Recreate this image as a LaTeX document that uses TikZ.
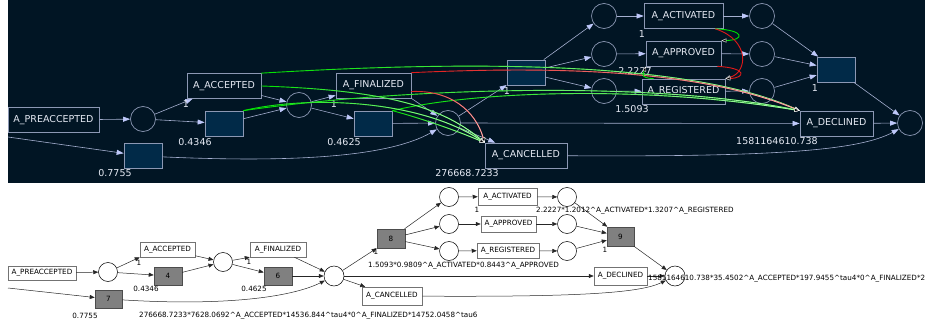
\documentclass[tikz,border=0pt]{standalone}
\usepackage{fontspec}
\setmainfont{DejaVu Sans}
\usetikzlibrary{arrows.meta,fadings}
\definecolor{topbg}{RGB}{1,21,36}
\definecolor{taufill}{RGB}{1,42,72}
\definecolor{topline}{RGB}{140,152,180}
\definecolor{topedge}{RGB}{165,175,208}
\definecolor{toptip}{RGB}{190,200,250}
\definecolor{toptext}{RGB}{230,234,244}
\definecolor{depgreen}{RGB}{0,225,0}
\definecolor{depred}{RGB}{225,25,25}
\definecolor{btaufill}{RGB}{128,128,128}
\newcommand{\pw}{\textasciicircum}
\tikzfading[name=tipfade, left color=transparent!100, right color=transparent!0]
\begin{document}
\begin{tikzpicture}[x=1pt,y=-1pt,
  tplace/.style={circle,draw=topline,line width=0.7pt,minimum size=25pt},
  tlabel/.style={draw=topline,line width=0.7pt,fill=topbg,text=toptext,font=\fontsize{9.5}{11}\selectfont,minimum height=25pt},
  ttau/.style={draw=topline,line width=0.7pt,fill=taufill,minimum width=38pt,minimum height=25pt},
  tnum/.style={text=toptext,font=\fontsize{9.5}{11}\selectfont},
  tedge/.style={draw=topedge,line width=0.6pt,-{Triangle[length=7pt,width=5pt,color=toptip]}},
  dep/.style={draw=#1,line width=0.9pt,-{Triangle[length=5pt,width=4pt,color=white,fill=black,line width=0.4pt]}},
  depf/.style={dep=#1,postaction={draw=white!70!#1,path fading=tipfade}},
  bplace/.style={circle,draw=black,line width=0.5pt,fill=white,minimum size=19pt},
  blabel/.style={draw=black!55,line width=0.5pt,fill=white,font=\fontsize{7.2}{8}\selectfont},
  btau/.style={draw=black!70,line width=0.5pt,fill=btaufill,font=\fontsize{7.2}{8}\selectfont},
  bnum/.style={font=\fontsize{7.2}{8}\selectfont},
  bedge/.style={draw=black!85,line width=0.5pt,-{Triangle[length=5pt,width=4pt]}}]
    \tikzstyle{every node}+=[inner sep=0pt]
    \useasboundingbox (0,0) rectangle (925,323);
    \fill [topbg] (8,0) rectangle (925,183);
    \node [tlabel,minimum width=91pt] (pre) at (53.5,120) {A\_PREACCEPTED};
    \node [tplace] (p1) at (143,119) {};
    \node [tlabel,minimum width=74pt] (acc) at (224,86) {A\_ACCEPTED};
    \node [ttau] (t4) at (224,123.5) {};
    \node [ttau] (t7) at (143,156) {};
    \node [tplace] (p2) at (299,105) {};
    \node [tlabel,minimum width=75pt] (fin) at (373.5,85.5) {A\_FINALIZED};
    \node [ttau] (t6) at (373,123.5) {};
    \node [tplace] (p3) at (448,123) {};
    \node [ttau] (t8) at (526,72.5) {};
    \node [tlabel,minimum width=82pt] (canc) at (526,155.5) {A\_CANCELLED};
    \node [tplace] (pa) at (604,16) {};
    \node [tplace] (pb) at (604,54) {};
    \node [tplace] (pc) at (604,91) {};
    \node [tlabel,minimum width=79pt] (act) at (683.5,16) {A\_ACTIVATED};
    \node [tlabel,minimum width=75pt] (appr) at (683.5,53.5) {A\_APPROVED};
    \node [tlabel,minimum width=83pt] (reg) at (683.5,91.5) {A\_REGISTERED};
    \node [tplace] (qa) at (762,16) {};
    \node [tplace] (qb) at (762,54) {};
    \node [tplace] (qc) at (762,91) {};
    \node [ttau] (t9) at (836,69.5) {};
    \node [tlabel,minimum width=73pt] (decl) at (836.5,123.5) {A\_DECLINED};
    \node [tplace] (pend) at (910,123) {};
    \coordinate (lin) at (8,137);
    \draw [tedge] (pre) -- (p1);
    \draw [tedge] (p1) -- (acc);
    \draw [tedge] (p1) -- (t4);
    \draw [tedge] (lin) -- (t7);
    \draw [tedge] (acc) -- (p2);
    \draw [tedge] (t4) -- (p2);
    \draw [tedge] (p2) -- (fin);
    \draw [tedge] (p2) -- (t6);
    \draw [tedge] (t6) -- (p3);
    \draw [tedge] (fin.south east) -- (p3);
    \draw [tedge] (t7) .. controls (300,163) and (390,156) .. (p3);
    \draw [tedge] (p3) -- (t8);
    \draw [tedge] (p3) -- (canc);
    \draw [tedge] (p3) -- (decl);
    \draw [tedge] (t8) -- (pa);
    \draw [tedge] (t8) -- (pb);
    \draw [tedge] (t8) -- (pc);
    \draw [tedge] (pa) -- (act);
    \draw [tedge] (pb) -- (appr);
    \draw [tedge] (pc) -- (reg);
    \draw [tedge] (act) -- (qa);
    \draw [tedge] (appr) -- (qb);
    \draw [tedge] (reg) -- (qc);
    \draw [tedge] (qa) -- (t9);
    \draw [tedge] (qb) -- (t9);
    \draw [tedge] (qc) -- (t9);
    \draw [tedge] (t9) -- (pend);
    \draw [tedge] (decl) -- (pend);
    \draw [tedge] (canc) .. controls (780,157) and (860,150) .. (pend);
    \node [tnum] (w1) at (186,104) {1};
    \node [tnum] (w2) at (195,142) {0.4346};
    \node [tnum] (w3) at (115,173) {0.7755};
    \node [tnum] (w4) at (334,104) {1};
    \node [tnum] (w5) at (344,142) {0.4625};
    \node [tnum] (w6) at (467,173) {276668.7233};
    \node [tnum] (w7) at (507,91) {1};
    \node [tnum] (w8) at (642,34) {1};
    \node [tnum] (w9) at (635,71) {2.2227};
    \node [tnum] (w10) at (632,109) {1.5093};
    \node [tnum] (w11) at (815,88) {1};
    \node [tnum] (w12) at (777,141) {1581164610.738};
    \draw [depf=depgreen] (acc.north east) .. controls (480,60) and (690,62) .. (decl.north west);
    \draw [depf=depred] (fin.north east) .. controls (560,66) and (700,70) .. (decl.north west);
    \draw [depf=depgreen] (t4.north east) .. controls (400,88) and (650,80) .. (decl.north west);
    \draw [depf=depgreen] (t6.north east) .. controls (480,90) and (650,86) .. (decl.north west);
    \draw [depf=depgreen] (acc.east) .. controls (380,90) and (440,105) .. (canc.north west);
    \draw [depf=depgreen] (t4.north east) .. controls (310,95) and (420,100) .. (canc.north west);
    \draw [depf=depred] ([yshift=-6pt]fin.east) .. controls (450,90) and (475,110) .. (canc.north west);
    \draw [depf=depgreen] (t6.north east) .. controls (420,118) and (455,130) .. (canc.north west);
    \draw [dep=depgreen] ([xshift=-8pt]act.south east) .. controls (745,30) and (745,40) .. (appr.north east);
    \draw [dep=depred] ([xshift=-8pt]act.south east) .. controls (750,40) and (748,72) .. (reg.north east);
    \draw [dep=depred] ([xshift=-4pt]appr.south east) .. controls (748,68) and (745,78) .. (reg.north east);
    \draw [dep=depgreen] ([xshift=12pt]reg.north west) .. controls (638,78) and (644,72) .. (appr.south west);
    \node [blabel,minimum width=68pt,minimum height=14pt] (bpre) at (42,273) {A\_PREACCEPTED};
    \node [bplace] (bp1) at (108,272) {};
    \node [blabel,minimum width=55pt,minimum height=15pt] (bacc) at (167.5,249.5) {A\_ACCEPTED};
    \node [btau,minimum width=28pt,minimum height=18pt] (bt4) at (168,276) {4};
    \node [btau,minimum width=27pt,minimum height=18pt] (bt7) at (108.5,299) {7};
    \node [bplace] (bp2) at (223,262) {};
    \node [blabel,minimum width=56pt,minimum height=15pt] (bfin) at (278,249.5) {A\_FINALIZED};
    \node [btau,minimum width=28pt,minimum height=18pt] (bt6) at (278,276) {6};
    \node [bplace,minimum size=20pt] (bp3) at (334,276) {};
    \node [btau,minimum width=28pt,minimum height=19pt] (bt8) at (391,238.5) {8};
    \node [blabel,minimum width=60pt,minimum height=18pt] (bcanc) at (392,296) {A\_CANCELLED};
    \node [bplace] (bpa) at (449,197) {};
    \node [bplace] (bpb) at (449,224) {};
    \node [bplace] (bpc) at (449,251) {};
    \node [blabel,minimum width=59pt,minimum height=17pt] (bact) at (507.5,196.5) {A\_ACTIVATED};
    \node [blabel,minimum width=55pt,minimum height=16pt] (bappr) at (508.5,224) {A\_APPROVED};
    \node [blabel,minimum width=62pt,minimum height=15pt] (breg) at (508,250.5) {A\_REGISTERED};
    \node [bplace] (bqa) at (567,197) {};
    \node [bplace] (bqb) at (567,224) {};
    \node [bplace] (bqc) at (567,251) {};
    \node [btau,minimum width=27pt,minimum height=19pt] (bt9) at (620.5,236.5) {9};
    \node [blabel,minimum width=53pt,minimum height=18pt] (bdecl) at (620.5,276) {A\_DECLINED};
    \node [bplace,minimum size=20pt] (bpend) at (675,276) {};
    \coordinate (blin) at (8,288);
    \draw [bedge] (bpre) -- (bp1);
    \draw [bedge] (bp1) -- (bacc.south west);
    \draw [bedge] (bp1) -- (bt4);
    \draw [bedge] (blin) -- (bt7);
    \draw [bedge] (bacc) -- (bp2);
    \draw [bedge] (bt4) -- (bp2);
    \draw [bedge] (bp2) -- (bfin.south west);
    \draw [bedge] (bp2) -- (bt6);
    \draw [bedge] (bt6) -- (bp3);
    \draw [bedge] (bfin) -- (bp3);
    \draw [bedge] (bt7) .. controls (220,306) and (290,298) .. (bp3);
    \draw [bedge] (bp3) -- (bt8.south west);
    \draw [bedge] (bp3) -- (bcanc);
    \draw [bedge] (bp3) -- (bdecl);
    \draw [bedge] (bt8) -- (bpa);
    \draw [bedge] (bt8) -- (bpb);
    \draw [bedge] (bt8) -- (bpc);
    \draw [bedge] (bpa) -- (bact);
    \draw [bedge] (bpb) -- (bappr);
    \draw [bedge] (bpc) -- (breg);
    \draw [bedge] (bact) -- (bqa);
    \draw [bedge] (bappr) -- (bqb);
    \draw [bedge] (breg) -- (bqc);
    \draw [bedge] (bqa) -- (bt9);
    \draw [bedge] (bqb) -- (bt9);
    \draw [bedge] (bqc) -- (bt9);
    \draw [bedge] (bt9) -- (bpend);
    \draw [bedge] (bdecl) -- (bpend);
    \draw [bedge] (bcanc) .. controls (580,297) and (640,293) .. (bpend);
    \node [bnum] (v1) at (139,263) {1};
    \node [bnum] (v2) at (146,289) {0.4346};
    \node [bnum] (v3) at (249,262) {1};
    \node [bnum] (v4) at (254,289) {0.4625};
    \node [bnum] (v5) at (85,316) {0.7755};
    \node [bnum,anchor=west] (v6) at (139,316) {276668.7233*7628.0692\pw A\_ACCEPTED*14536.844\pw tau4*0\pw A\_FINALIZED*14752.0458\pw tau6};
    \node [bnum] (v7) at (376,252) {1};
    \node [bnum] (v8) at (477,210) {1};
    \node [bnum,anchor=west] (v9) at (368,266) {1.5093*0.9809\pw A\_ACTIVATED*0.8443\pw A\_APPROVED};
    \node [bnum,anchor=west] (v10) at (536,211) {2.2227*1.2012\pw A\_ACTIVATED*1.3207\pw A\_REGISTERED};
    \node [bnum] (v11) at (605,250) {1};
    \node [bnum,anchor=west] (v12) at (648,279) {1581164610.738*35.4502\pw A\_ACCEPTED*197.9455\pw tau4*0\pw A\_FINALIZED*2};
\end{tikzpicture}
\end{document}
